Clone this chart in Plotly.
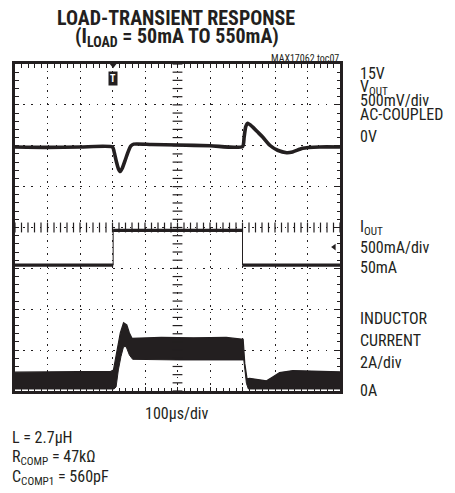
import plotly.graph_objects as go

# ---------------- data ----------------
# time axis: 100 us/div, 10 divisions
vout_time_us = [0, 100, 200, 300, 305, 312, 318, 324, 330, 340, 348, 356, 365, 420, 500, 600,
                700, 705, 710, 716, 731, 746, 762, 784, 808, 836, 854, 885, 937, 1000]
vout_mv = [0, -5, 0, 0, -60, -180, -265, -300, -260, -150, -60, 10, 35, 30, 25, 15,
           5, 120, 250, 290, 245, 185, 122, 21, -40, -70, -61, -16, 0, 0]

iout_time_us = [0, 302, 302, 700, 700, 1000]
iout_ma = [50, 50, 475, 475, 50, 50]

il_hi_time_us = [0, 150, 295, 303, 313, 324, 334, 344, 352, 360, 450, 550, 650, 702, 707, 714,
                 722, 753, 774, 794, 814, 855, 920, 1000]
il_hi_a = [0.92, 0.94, 0.96, 1.03, 2.0, 2.84, 3.34, 3.23, 2.84, 2.58, 2.62, 2.6, 2.62, 2.53, 1.35, 0.6,
           0.62, 0.54, 0.5, 0.7, 0.9, 1.0, 0.96, 0.94]
il_lo_time_us = [0, 305, 311, 318, 326, 334, 342, 352, 362, 500, 704, 712, 718, 1000]
il_lo_a = [0.1, 0.1, 0.2, 1.03, 1.68, 2.17, 2.17, 1.76, 1.55, 1.52, 1.52, 0.38, 0.1, 0.1]

x_divs = 10
y_divs = 8

# channel settings (scale per division and screen reference in divisions)
VOUT_MV_PER_DIV, VOUT_REF_DIV = 500, 5.97
IOUT_MA_PER_DIV, IOUT_REF_DIV, IOUT_REF_MA = 500, 3.08, 50
IL_A_PER_DIV, IL_REF_DIV = 2, 0.0

INK = "#231f20"
FONT = "Liberation Sans Narrow, Arial Narrow, Roboto Condensed, DejaVu Sans Condensed, sans-serif"

W, H = 455, 493
OFF = 8  # default page body margin
L, R, T, B = 14.5, 340, 64, 391


def px(x):
    return (x - L) / (R - L)


def py(y):
    return (B - y) / (B - T)


vout_div = [VOUT_REF_DIV + v / VOUT_MV_PER_DIV for v in vout_mv]
iout_div = [IOUT_REF_DIV + (v - IOUT_REF_MA) / IOUT_MA_PER_DIV for v in iout_ma]
il_hi_div = [IL_REF_DIV + v / IL_A_PER_DIV for v in il_hi_a]
il_lo_div = [IL_REF_DIV + v / IL_A_PER_DIV for v in il_lo_a]

fig = go.Figure()

# inductor current envelope (filled band)
fig.add_trace(go.Scatter(x=il_lo_time_us, y=il_lo_div, mode="lines",
                         line=dict(color=INK, width=1), hoverinfo="skip"))
fig.add_trace(go.Scatter(x=il_hi_time_us, y=il_hi_div, mode="lines", fill="tonexty",
                         fillcolor=INK, line=dict(color=INK, width=1.2), hoverinfo="skip"))

# IOUT: thin edges, thick flat parts
fig.add_trace(go.Scatter(x=iout_time_us, y=iout_div, mode="lines",
                         line=dict(color=INK, width=1), hoverinfo="skip"))
hx, hy = [], []
for i in range(len(iout_time_us) - 1):
    if iout_ma[i] == iout_ma[i + 1]:
        hx += [iout_time_us[i], iout_time_us[i + 1], None]
        hy += [iout_div[i], iout_div[i + 1], None]
fig.add_trace(go.Scatter(x=hx, y=hy, mode="lines", line=dict(color=INK, width=3.4),
                         hoverinfo="skip"))

# VOUT
fig.add_trace(go.Scatter(x=vout_time_us, y=vout_div, mode="lines",
                         line=dict(color=INK, width=3.6, shape="spline", smoothing=0.6),
                         hoverinfo="skip"))

# center cross tick marks
xmax = x_divs * 100
cx = [i * 20 for i in range(x_divs * 5 + 1)]
fig.add_trace(go.Scatter(x=cx, y=[y_divs / 2] * len(cx), mode="markers",
                         marker=dict(symbol="line-ns", size=7, line=dict(color=INK, width=1.2)),
                         hoverinfo="skip"))
cy = [i * 0.2 for i in range(y_divs * 5 + 1)]
fig.add_trace(go.Scatter(x=[xmax / 2] * len(cy), y=cy, mode="markers",
                         marker=dict(symbol="line-ew", size=7, line=dict(color=INK, width=1.2)),
                         hoverinfo="skip"))

# trigger marker and ground/reference arrow
fig.add_trace(go.Scatter(x=[302], y=[y_divs - 0.03], mode="markers", cliponaxis=False,
                         marker=dict(symbol="triangle-down", size=6, color=INK), hoverinfo="skip"))
fig.add_trace(go.Scatter(x=[982], y=[3.52], mode="markers", cliponaxis=False,
                         marker=dict(symbol="triangle-left", size=6, color=INK), hoverinfo="skip"))

axis_common = dict(showline=True, linewidth=3, linecolor=INK, mirror="allticks",
                   ticks="inside", ticklen=4, tickwidth=1.2, tickcolor=INK,
                   showticklabels=False, zeroline=False, gridcolor=INK, gridwidth=1.3,
                   fixedrange=True)

fig.update_xaxes(range=[0, xmax], dtick=100, tick0=0, griddash="1.5px,5.02px",
                 minor=dict(ticks="inside", dtick=20, ticklen=3.5, tickwidth=1.1,
                            tickcolor=INK, showgrid=False), **axis_common)
fig.update_yaxes(range=[0, y_divs], dtick=1, tick0=0, griddash="1.5px,6.68px",
                 minor=dict(ticks="inside", dtick=0.2, ticklen=3.5, tickwidth=1.1,
                            tickcolor=INK, showgrid=False), **axis_common)

ann = []


def text(x, y, s, size=16, anchor="left", bold=False, color=INK):
    ann.append(dict(xref="paper", yref="paper", x=px(x), y=py(y), text=s, showarrow=False,
                    xanchor=anchor, yanchor="middle", borderpad=0,
                    font=dict(family=FONT, size=size, color=color,
                              weight="bold" if bold else "normal")))


text(176, 18, "LOAD-TRANSIENT RESPONSE", size=20, anchor="center", bold=True)
text(177, 37, "(I<sub>LOAD</sub> = 50mA TO 550mA)", size=20, anchor="center", bold=True)
text(340, 58, "MAX17062 toc07", size=10, anchor="right")

text(359, 74, "15V")
text(359, 87, "V<sub>OUT</sub>")
text(359, 100, "500mV/div")
text(359, 114, "AC-COUPLED")
text(359, 136, "0V")

text(359, 228, "I<sub>OUT</sub>")
text(359, 247, "500mA/div")
text(359, 267, "50mA")

text(359, 318, "INDUCTOR")
text(359, 340, "CURRENT")
text(359, 362, "2A/div")
text(359, 390, "0A")

text(177, 413, "100µs/div", anchor="center")
text(10, 437, "L = 2.7µH")
text(10, 457, "R<sub>COMP</sub> = 47kΩ")
text(10, 477, "C<sub>COMP1</sub> = 560pF")

# trigger "T" tag
ann.append(dict(xref="x", yref="paper", x=302, y=py(78), text="<b>T</b>", showarrow=False,
                xanchor="center", yanchor="middle", bgcolor=INK, borderpad=1,
                font=dict(family=FONT, size=10, color="white")))

fig.update_layout(width=W - OFF, height=H - OFF,
                  margin=dict(l=L - OFF, r=W - R, t=T - OFF, b=H - B, autoexpand=False),
                  plot_bgcolor="white", paper_bgcolor="white", showlegend=False,
                  annotations=ann)

fig.write_html("out.html")
